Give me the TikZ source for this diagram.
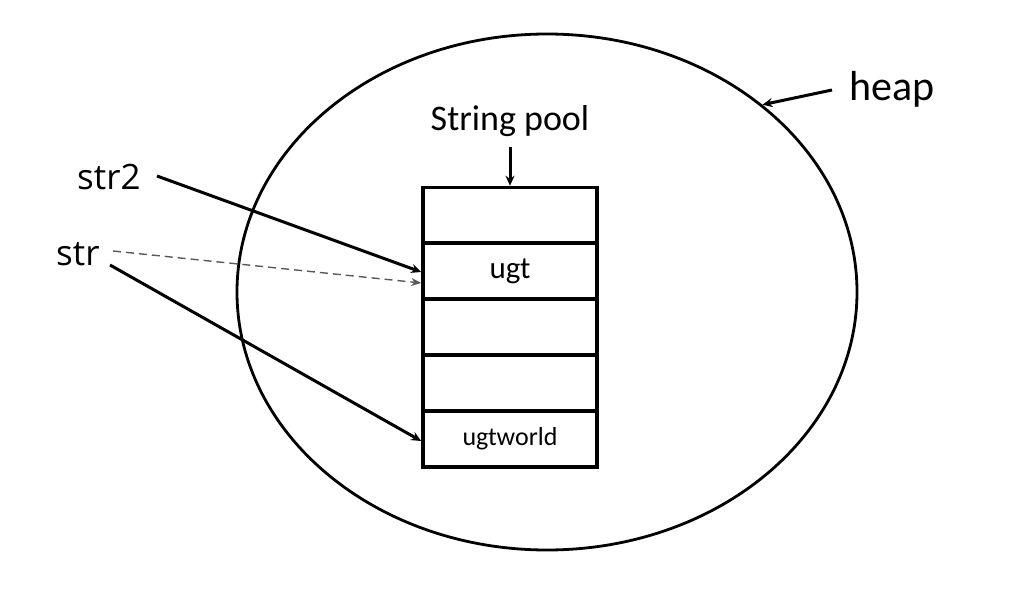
\documentclass[tikz,border=0pt]{standalone}
\usepackage{fontspec}
\setmainfont{Carlito}
\newfontfamily\labfont{Open Sans}
\usetikzlibrary{shapes.geometric,arrows.meta}
\begin{document}
\begin{tikzpicture}[x=1pt,y=-1pt,
  cell/.style={draw,line width=3.6pt,minimum width=174pt,minimum height=56pt,inner sep=0pt,font=\fontsize{26}{30}\selectfont},
  arr/.style={line width=3pt,-{Stealth[length=10pt,width=9pt]}},
  darr/.style={line width=1.4pt,dash pattern=on 8pt off 5pt,draw=black!65,-{Stealth[length=10pt,width=8pt]}},
  lab/.style={inner sep=0pt,anchor=base}]
\useasboundingbox (0,0) rectangle (1017,591);
\node[ellipse,draw,line width=2.8pt,minimum width=620pt,minimum height=516pt,inner sep=0pt] (heapell) at (547,292) {};
\node[cell] (c1) at (510,215.5) {};
\node[cell] (c2) at (510,271) {\fontsize{31}{34}\selectfont ugt};
\node[cell] (c3) at (510,327) {};
\node[cell] (c4) at (510,383) {};
\node[cell] (c5) at (510,439) {ugtworld};
\node[lab,font=\fontsize{36}{40}\selectfont] (pool) at (510,131) {String pool};
\node[lab,font=\fontsize{42}{46}\selectfont,anchor=base west] (heap) at (849,101) {heap};
\node[lab,font=\labfont\fontsize{35}{40}\selectfont,anchor=base west] (str2) at (77,189) {str2};
\node[lab,font=\labfont\fontsize{35}{40}\selectfont,anchor=base west] (str) at (56,265) {str};
\coordinate (s2) at (157,176);
\coordinate (sd) at (113,251);
\coordinate (ss) at (110,265);
\coordinate (hp) at (832,90);
\coordinate (pt) at (510,147);
\draw[arr] (pt) -- (c1.north);
\draw[arr] (hp) -- (heapell.41.8);
\draw[arr] (s2) -- ([yshift=-1pt]c2.west);
\draw[darr] (sd) -- ([yshift=-12pt]c2.west);
\draw[arr] (ss) -- ([yshift=-2pt]c5.west);
\end{tikzpicture}
\end{document}
